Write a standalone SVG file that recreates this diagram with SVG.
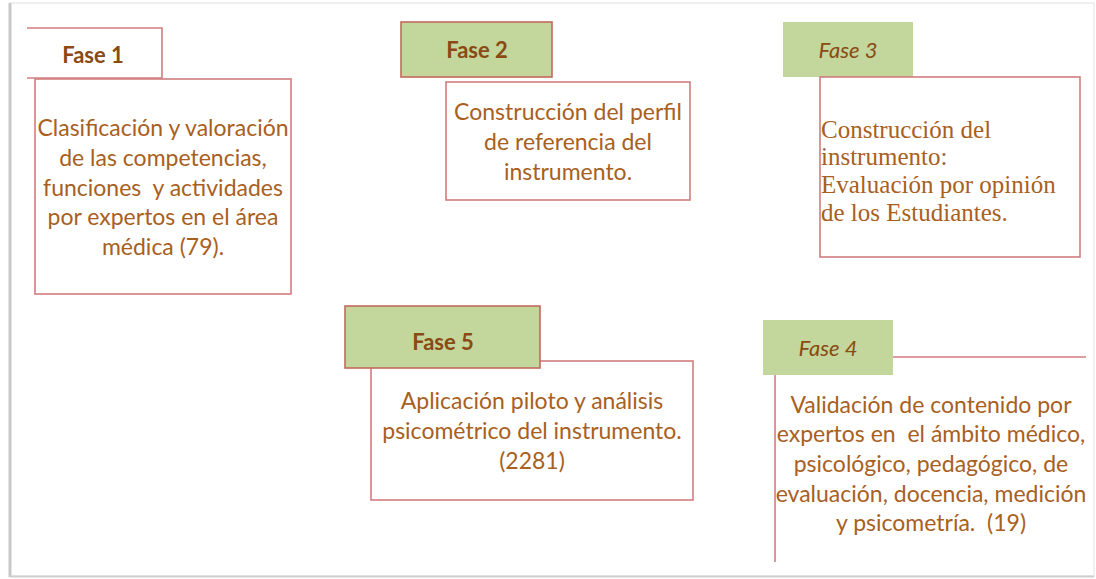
<svg xmlns="http://www.w3.org/2000/svg" width="1096" height="579" viewBox="0 0 1096 579">
<style>
.box{fill:#ffffff;stroke:#d27c7e;stroke-width:1.6}
.ln{fill:none;stroke:#d27c7e;stroke-width:1.6}
.tabs{fill:#c3d69b;stroke:#c46a5a;stroke-width:1.6}
.tabn{fill:#c3d69b;stroke:none}
.hd{font-family:Lato,"Liberation Sans",sans-serif;font-size:22px;font-weight:bold;fill:#8a4a14;text-anchor:middle}
.hi{font-family:Lato,"Liberation Sans",sans-serif;font-size:22px;font-style:italic;font-weight:normal;fill:#8a4a14;text-anchor:middle}
.tx{font-family:Lato,"Liberation Sans",sans-serif;font-size:23px;fill:#a8601e;text-anchor:middle;white-space:pre}
.sr{font-family:"Liberation Serif",serif;font-size:25px;fill:#a8601e}
</style>
<defs>
<clipPath id="clip4"><rect x="760" y="300" width="326" height="279"/></clipPath>
</defs>
<rect x="0" y="0" width="1096" height="579" fill="#ffffff"/>
<g id="frame">
<rect x="10" y="3" width="1084" height="573" fill="none" stroke="#ececec" stroke-width="1.5"/>
<line x1="10" y1="3" x2="10" y2="577" stroke="#c8c8c8" stroke-width="3"/>
<line x1="10" y1="576.5" x2="1094" y2="576.5" stroke="#cfcfcf" stroke-width="2"/>
</g>
<g id="connectors"></g>
<g id="fase1">
<polyline class="ln" points="27,28 162,28 162,78 27,78"/>
<text class="hd" x="93" y="63">Fase 1</text>
<rect class="box" x="35" y="79" width="256" height="215"/>
<text class="tx" x="163" y="136">Clasificación y valoración</text>
<text class="tx" x="163" y="166">de las competencias,</text>
<text class="tx" x="163" y="196">funciones  y actividades</text>
<text class="tx" x="163" y="225">por expertos en el área</text>
<text class="tx" x="163" y="255">médica (79).</text>
</g>
<g id="fase2">
<rect class="tabs" x="401" y="22" width="151" height="55"/>
<text class="hd" x="477" y="58">Fase 2</text>
<rect class="box" x="446" y="82" width="244" height="118"/>
<text class="tx" x="568" y="120">Construcción del perfil</text>
<text class="tx" x="568" y="150">de referencia del</text>
<text class="tx" x="568" y="180">instrumento.</text>
</g>
<g id="fase3">
<rect class="tabn" x="783" y="22" width="130" height="55"/>
<text class="hi" x="848" y="58">Fase 3</text>
<rect class="box" x="820" y="77" width="260" height="180"/>
<text class="sr" x="821" y="138">Construcción del</text>
<text class="sr" x="821" y="165">instrumento:</text>
<text class="sr" x="821" y="193">Evaluación por opinión</text>
<text class="sr" x="821" y="221">de los Estudiantes.</text>
</g>
<g id="fase5">
<rect class="box" x="371" y="361" width="322" height="139"/>
<rect class="tabs" x="345" y="306" width="195" height="62"/>
<text class="hd" x="443" y="350">Fase 5</text>
<text class="tx" x="532" y="409">Aplicación piloto y análisis</text>
<text class="tx" x="532" y="439">psicométrico del instrumento.</text>
<text class="tx" x="532" y="469">(2281)</text>
</g>
<g id="fase4">
<rect class="tabn" x="763" y="320" width="130" height="55"/>
<text class="hi" x="828" y="356">Fase 4</text>
<line class="ln" x1="893" y1="357" x2="1086" y2="357"/>
<line class="ln" x1="775" y1="375" x2="775" y2="562"/>
<g clip-path="url(#clip4)">
<text class="tx" x="931" y="413">Validación de contenido por</text>
<text class="tx" x="931" y="442">expertos en  el ámbito médico,</text>
<text class="tx" x="931" y="472">psicológico, pedagógico, de</text>
<text class="tx" x="931" y="502">evaluación, docencia, medición</text>
<text class="tx" x="931" y="531">y psicometría.  (19)</text>
</g>
</g>
</svg>
